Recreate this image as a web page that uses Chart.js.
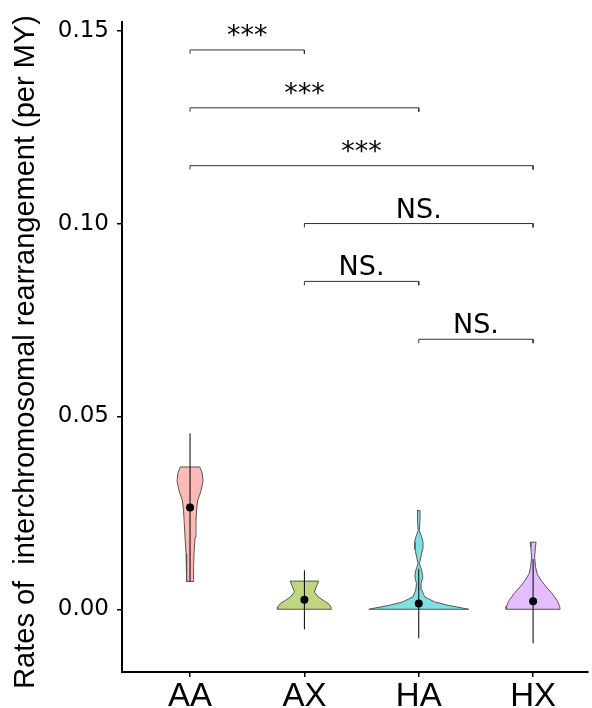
<!DOCTYPE html>
<html>
<head>
<meta charset="utf-8">
<script src="https://cdn.jsdelivr.net/npm/chart.js@4.4.1/dist/chart.umd.min.js"></script>
<style>
  html, body { margin: 0; padding: 0; background: #fff; overflow: hidden; }
  #wrap { width: 592px; height: 708px; }
</style>
</head>
<body>
<div id="wrap"><canvas id="rateChart" width="592" height="708"></canvas></div>
<script>
// groups on the x axis (positions 1..4)
const groups = ["AA", "AX", "HA", "HX"];
const groupFill = ["rgba(248,118,109,0.5)", "rgba(124,174,0,0.5)", "rgba(0,191,196,0.5)", "rgba(199,124,255,0.5)"];

// violin outlines: rate levels and half widths (x units)
const aaLevels = [0.0072, 0.0109, 0.0144, 0.0187, 0.0230, 0.0256, 0.0281, 0.0307, 0.0333, 0.0354, 0.0369];
const aaWidth  = [0.029, 0.031, 0.035, 0.044, 0.052, 0.057, 0.066, 0.096, 0.114, 0.105, 0.085];
const axLevels = [0, 0.0002, 0.0006, 0.0015, 0.0023, 0.0032, 0.0045, 0.0062, 0.0073];
const axWidth  = [0.236, 0.236, 0.232, 0.21, 0.166, 0.122, 0.087, 0.109, 0.125];
const haLevels = [0, 0.0003, 0.001, 0.0019, 0.0032, 0.005, 0.0067, 0.0078, 0.0088, 0.0102, 0.0118, 0.0135, 0.0155, 0.0174, 0.0188, 0.0204, 0.023, 0.0256];
const haWidth  = [0.437, 0.385, 0.262, 0.14, 0.052, 0.026, 0.02, 0.03, 0.034, 0.025, 0.006, 0.018, 0.033, 0.037, 0.025, 0.005, 0.011, 0.011];
const hxLevels = [0, 0.0008, 0.0023, 0.0041, 0.0058, 0.0075, 0.0092, 0.0109, 0.0135, 0.0161, 0.0174];
const hxWidth  = [0.236, 0.232, 0.21, 0.166, 0.114, 0.07, 0.035, 0.022, 0.013, 0.02, 0.026];

// mean and standard deviation per group
const groupMean = [0.0264, 0.00245, 0.0015, 0.0021];
const groupSd   = [0.0192, 0.00765, 0.009, 0.0109];

// significance brackets
const bracketFrom  = [1, 1, 1, 2, 2, 3];
const bracketTo    = [2, 3, 4, 4, 3, 4];
const bracketLevel = [0.145, 0.13, 0.115, 0.10, 0.085, 0.07];
const bracketLabel = ["***", "***", "***", "NS.", "NS.", "NS."];
const bracketTick = 0.001;

const yTicks = [0, 0.05, 0.10, 0.15];
const yTitle = "Rates of  interchromosomal rearrangement (per MY)";

function violinPoints(pos, levels, widths) {
  const pts = [];
  for (let i = 0; i < levels.length; i++) pts.push({ x: pos + widths[i], y: levels[i] });
  for (let i = levels.length - 1; i >= 0; i--) pts.push({ x: pos - widths[i], y: levels[i] });
  pts.push({ x: pos + widths[0], y: levels[0] });
  return pts;
}

const violins = [[aaLevels, aaWidth], [axLevels, axWidth], [haLevels, haWidth], [hxLevels, hxWidth]];
const datasets = [];

// chart.js paints higher "order" first
violins.forEach(([lv, wd], i) => {
  datasets.push({
    data: violinPoints(i + 1, lv, wd),
    showLine: true,
    violinFill: groupFill[i],
    borderColor: "#555555",
    borderWidth: 1,
    pointRadius: 0,
    tension: 0,
    order: 4
  });
});

groupMean.forEach((m, i) => {
  datasets.push({
    data: [{ x: i + 1, y: m - groupSd[i] }, { x: i + 1, y: m + groupSd[i] }],
    showLine: true,
    borderColor: "#000",
    borderWidth: 1,
    pointRadius: 0,
    order: 3
  });
});

datasets.push({
  data: groupMean.map((m, i) => ({ x: i + 1, y: m })),
  showLine: false,
  pointRadius: 4,
  pointBackgroundColor: "#000",
  pointBorderColor: "#000",
  pointBorderWidth: 0,
  order: 2
});

bracketLevel.forEach((lvl, i) => {
  datasets.push({
    data: [
      { x: bracketFrom[i], y: lvl - bracketTick },
      { x: bracketFrom[i], y: lvl },
      { x: bracketTo[i], y: lvl },
      { x: bracketTo[i], y: lvl - bracketTick }
    ],
    showLine: true,
    borderColor: "#333",
    borderWidth: 1,
    pointRadius: 0,
    clip: false,
    order: 1
  });
});

// fills the closed violin outlines before their border is drawn
const violinFillPlugin = {
  id: "violinFill",
  beforeDatasetDraw(chart, args) {
    const ds = chart.data.datasets[args.index];
    if (!ds.violinFill) return;
    const pts = args.meta.data;
    const ctx = chart.ctx;
    ctx.save();
    ctx.beginPath();
    pts.forEach((p, k) => (k ? ctx.lineTo(p.x, p.y) : ctx.moveTo(p.x, p.y)));
    ctx.closePath();
    ctx.fillStyle = ds.violinFill;
    ctx.fill();
    ctx.restore();
  }
};

const textPlugin = {
  id: "extraText",
  afterDatasetsDraw(chart) {
    const { ctx, scales: { x, y } } = chart;
    ctx.save();
    ctx.fillStyle = "#000";
    ctx.textAlign = "center";
    ctx.textBaseline = "alphabetic";
    ctx.font = "27px 'DejaVu Sans'";
    bracketLevel.forEach((lvl, i) => {
      const cx = x.getPixelForValue((bracketFrom[i] + bracketTo[i]) / 2);
      ctx.fillText(bracketLabel[i], cx, y.getPixelForValue(lvl) - 6);
    });
    ctx.restore();

    // y axis title
    ctx.save();
    ctx.translate(25.5, 352);
    ctx.rotate(-Math.PI / 2);
    ctx.font = "29px 'Liberation Sans'";
    ctx.fillStyle = "#000";
    ctx.textAlign = "center";
    ctx.textBaseline = "middle";
    ctx.fillText(yTitle, 0, 0);
    ctx.restore();
  }
};

new Chart(document.getElementById("rateChart"), {
  type: "scatter",
  data: { datasets: datasets },
  options: {
    responsive: false,
    animation: false,
    events: [],
    layout: { padding: { top: 19, right: 0, bottom: 0, left: 0 } },
    plugins: { legend: { display: false }, tooltip: { enabled: false } },
    scales: {
      x: {
        type: "linear",
        min: 0.405,
        max: 4.48,
        afterBuildTicks: (s) => { s.ticks = groups.map((g, i) => ({ value: i + 1 })); },
        afterFit: (s) => { s.height = 36; },
        ticks: {
          callback: (v) => groups[v - 1],
          font: { family: "'Liberation Sans'", size: 33 },
          color: "#000",
          padding: 0,
          maxRotation: 0,
          autoSkip: false
        },
        grid: { drawOnChartArea: false, drawTicks: true, tickLength: 5, color: "#000", lineWidth: 1.5 },
        border: { display: true, color: "#000", width: 2 }
      },
      y: {
        min: -0.01626,
        max: 0.1523,
        afterBuildTicks: (s) => { s.ticks = yTicks.map(v => ({ value: v })); },
        afterFit: (s) => { s.width = 122; },
        ticks: {
          callback: (v) => v.toFixed(2),
          font: { family: "'DejaVu Sans'", size: 23 },
          color: "#000",
          padding: 8
        },
        grid: { drawOnChartArea: false, drawTicks: true, tickLength: 5, color: "#000", lineWidth: 1.5 },
        border: { display: true, color: "#000", width: 2 }
      }
    }
  },
  plugins: [violinFillPlugin, textPlugin]
});
</script>
</body>
</html>
